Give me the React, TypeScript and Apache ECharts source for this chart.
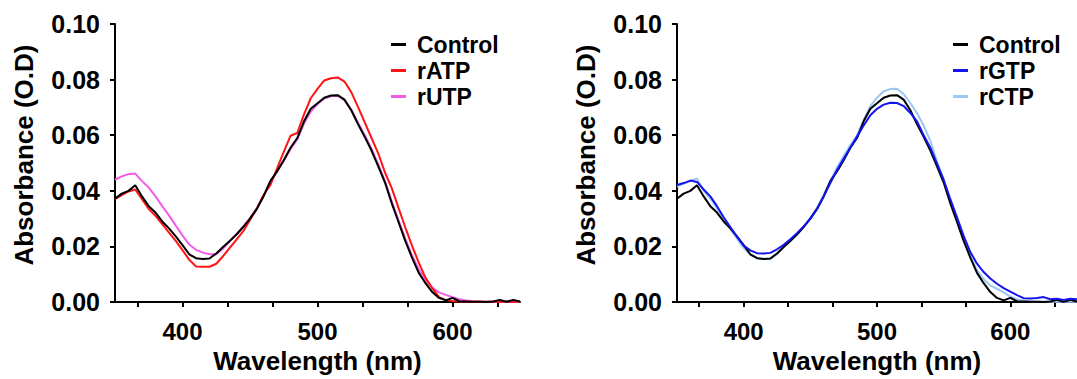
import React, { useEffect, useRef } from "react";
import * as echarts from "echarts";

const WAVELENGTH = [
  350, 355, 360, 365, 370, 375, 380, 385, 390, 395,
  400, 405, 410, 415, 420, 425, 430, 435, 440, 445,
  450, 455, 460, 465, 470, 475, 480, 485, 490, 495,
  500, 505, 510, 515, 520, 525, 530, 535, 540, 545,
  550, 555, 560, 565, 570, 575, 580, 585, 590, 595,
  600, 605, 610, 615, 620, 625, 630, 635, 640, 645,
  650,
];

const CONTROL = [
  0.0372, 0.039, 0.04, 0.042, 0.038, 0.0345, 0.0322, 0.029, 0.0265, 0.0236,
  0.0205, 0.0172, 0.0158, 0.0155, 0.0157, 0.0175, 0.0198, 0.022, 0.0243, 0.027,
  0.03, 0.0335, 0.038, 0.0435, 0.047, 0.051, 0.0555, 0.059, 0.065, 0.0695,
  0.0715, 0.0735, 0.0743, 0.0744, 0.0728, 0.069, 0.064, 0.0594, 0.0545, 0.0488,
  0.043, 0.0355, 0.0288, 0.022, 0.016, 0.0105, 0.0068, 0.0036, 0.0015, 0.0006,
  0.0015, 0.0003, 0.0002, 0.0001, 0.0001, 0.0, 0.0002, 0.0008, 0.0001, 0.0008,
  0.0002,
];

const RATP = [
  0.037, 0.0385, 0.0398, 0.0405, 0.037, 0.0335, 0.031, 0.028, 0.025, 0.022,
  0.0187, 0.0152, 0.0128, 0.0127, 0.0127, 0.0138, 0.0165, 0.0195, 0.0225, 0.0255,
  0.0295, 0.0335, 0.0385, 0.042, 0.048, 0.054, 0.0598, 0.0608, 0.0675, 0.0733,
  0.0767, 0.0797, 0.0805, 0.0808, 0.0793, 0.0755, 0.0702, 0.0646, 0.059, 0.0535,
  0.0466, 0.041, 0.0339, 0.0269, 0.0203, 0.0142, 0.0088, 0.005, 0.0018, 0.0008,
  0.0004, 0.0002, 0.0001, 0.0001, 0.0001, 0.0001, 0.0001, 0.0001, 0.0001, 0.0001,
  0.0001,
];

const RUTP = [
  0.044, 0.0452, 0.046, 0.0462, 0.0435, 0.0412, 0.038, 0.0345, 0.0312, 0.0275,
  0.024, 0.0207, 0.0188, 0.0178, 0.0172, 0.0172, 0.0192, 0.022, 0.0245, 0.0272,
  0.0302, 0.0337, 0.0382, 0.043, 0.0468, 0.0508, 0.055, 0.0585, 0.0642, 0.0685,
  0.0712, 0.0732, 0.0741, 0.0742, 0.0725, 0.0692, 0.0645, 0.06, 0.0552, 0.0495,
  0.0435, 0.0362, 0.0295, 0.0228, 0.0168, 0.0118, 0.008, 0.0052, 0.0035, 0.0026,
  0.0018, 0.001, 0.0006, 0.0003, 0.0002, 0.0001, 0.0001, 0.0001, 0.0001, 0.0001,
  0.0001,
];

const RGTP = [
  0.0421, 0.0428, 0.0437, 0.0432, 0.0405, 0.038, 0.0345, 0.0305, 0.027, 0.0235,
  0.0203, 0.0186, 0.0176, 0.0175, 0.0177, 0.019, 0.0206, 0.0226, 0.0248, 0.0272,
  0.03, 0.0335, 0.038, 0.0428, 0.0475, 0.0515, 0.0555, 0.0595, 0.0635, 0.0672,
  0.0695, 0.071, 0.0717, 0.0716, 0.0705, 0.068, 0.065, 0.06, 0.0555, 0.0498,
  0.044, 0.037, 0.0305, 0.0238, 0.018, 0.0138, 0.0108, 0.0085, 0.0066, 0.005,
  0.0038, 0.0025, 0.0014, 0.0013, 0.0015, 0.0018, 0.001, 0.0012, 0.0008, 0.0012,
  0.001,
];

const RCTP = [
  0.0415, 0.0425, 0.0435, 0.0445, 0.04, 0.0372, 0.0338, 0.03, 0.0263, 0.0228,
  0.0195, 0.017, 0.016, 0.0155, 0.0154, 0.0172, 0.0198, 0.0222, 0.0245, 0.0272,
  0.0302, 0.0338, 0.0385, 0.0435, 0.0485, 0.0525, 0.0565, 0.06, 0.0655, 0.0705,
  0.0735, 0.0758, 0.0766, 0.0767, 0.0748, 0.0716, 0.068, 0.0635, 0.058, 0.0505,
  0.044, 0.0365, 0.0292, 0.0225, 0.0165, 0.0115, 0.0082, 0.006, 0.0048, 0.0035,
  0.002, 0.001, 0.0005, 0.0003, 0.0002, 0.0001, 0.0001, 0.0001, 0.0001, 0.0001,
  0.0001,
];

const X_TICKS = [366.667, 400, 433.333, 466.667, 500, 533.333, 566.667, 600, 633.333];
const X_LABELS = [400, 500, 600];

const LEFT_LEGEND = ["Control", "rATP", "rUTP"];
const RIGHT_LEGEND = ["Control", "rGTP", "rCTP"];

const COLORS: Record<string, string> = {
  Control: "#000000",
  rATP: "#ff1414",
  rUTP: "#f25ce6",
  rGTP: "#1414f0",
  rCTP: "#9cc8f4",
};

const FONT = 'Arial, "Liberation Sans", Helvetica, sans-serif';

function pairs(values: number[]) {
  return WAVELENGTH.map((w, i) => [w, values[i]]);
}

export default function App() {
  const ref = useRef<HTMLDivElement>(null);

  useEffect(() => {
    if (!ref.current) return;
    const chart = echarts.init(ref.current, null, { renderer: "svg" });

    const textBase = { fontFamily: FONT, fontWeight: "bold", color: "#000" };

    const xAxis = (gridIndex: number) => ({
      type: "value",
      gridIndex,
      min: 350,
      max: 650,
      name: "Wavelength (nm)",
      nameLocation: "middle",
      nameGap: 42,
      nameTextStyle: { ...textBase, fontSize: 26 },
      axisLine: { onZero: false, lineStyle: { color: "#000", width: 2 } },
      axisTick: {
        show: true,
        customValues: X_TICKS,
        length: 5,
        lineStyle: { color: "#000", width: 2 },
      },
      axisLabel: {
        customValues: X_LABELS,
        margin: 17,
        ...textBase,
        fontSize: 24,
      },
      splitLine: { show: false },
    });

    const yAxis = (gridIndex: number) => ({
      type: "value",
      gridIndex,
      min: 0,
      max: 0.1,
      interval: 0.02,
      name: "Absorbance (O.D)",
      nameLocation: "middle",
      nameRotate: 90,
      nameGap: 78,
      nameTextStyle: { ...textBase, fontSize: 26, padding: [0, 0, 0, 16] },
      axisLine: { show: true, lineStyle: { color: "#000", width: 2 } },
      axisTick: { show: true, length: 5, lineStyle: { color: "#000", width: 2 } },
      axisLabel: {
        margin: 15,
        ...textBase,
        fontSize: 25,
        formatter: (v: number) => v.toFixed(2),
      },
      splitLine: { show: false },
    });

    const line = (name: string, values: number[], idx: number) => ({
      type: "line",
      name,
      xAxisIndex: idx,
      yAxisIndex: idx,
      data: pairs(values),
      showSymbol: false,
      symbol: "none",
      lineStyle: { color: COLORS[name], width: 2 },
      itemStyle: { color: COLORS[name] },
      emphasis: { disabled: true },
    });

    const legend = (data: string[], left: number) => ({
      data,
      left,
      top: 33,
      padding: 0,
      orient: "vertical",
      icon: "rect",
      itemWidth: 15,
      itemHeight: 3,
      itemGap: 3,
      selectedMode: false,
      textStyle: { ...textBase, fontSize: 23, lineHeight: 23, padding: [0, 0, 0, 6] },
    });

    chart.setOption({
      animation: false,
      backgroundColor: "#fff",
      grid: [
        { left: 115, top: 24, width: 405, height: 280 },
        { left: 677, top: 24, width: 406, height: 280 },
      ],
      xAxis: [xAxis(0), xAxis(1)],
      yAxis: [yAxis(0), yAxis(1)],
      legend: [legend(LEFT_LEGEND, 391), legend(RIGHT_LEGEND, 953)],
      series: [
        line("rUTP", RUTP, 0),
        line("rATP", RATP, 0),
        line("Control", CONTROL, 0),
        line("rCTP", RCTP, 1),
        line("Control", CONTROL, 1),
        line("rGTP", RGTP, 1),
      ],
    });

    return () => chart.dispose();
  }, []);

  return (
    <div
      ref={ref}
      style={{ position: "fixed", left: 0, top: 0, width: 1077, height: 379, background: "#fff" }}
    />
  );
}
